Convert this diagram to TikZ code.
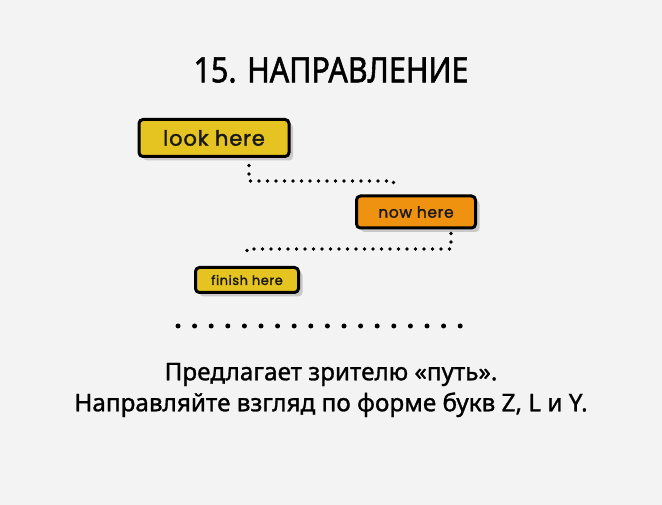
\documentclass[tikz,border=0pt]{standalone}
\usepackage{fontspec}
\setmainfont{Noto Sans}[FakeBold=1.2]
\newfontfamily\titlefont{Noto Sans}[FakeStretch=0.87, FakeBold=1.6]
\newfontfamily\labelfont{Poppins}[FakeBold=1.6, LetterSpace=4]
\definecolor{bg}{HTML}{F3F3F3}
\definecolor{yel}{HTML}{E5C320}
\definecolor{org}{HTML}{EE9210}
\definecolor{shd}{HTML}{C9C9C9}
\usetikzlibrary{shadows}
\tikzset{
  tag/.style={draw=black, line width=3pt, rounded corners=4pt, inner sep=0pt,
    text=black!90,
    drop shadow={shadow xshift=4pt, shadow yshift=-4pt, fill=shd, opacity=1}},
  dotline/.style={line width=3.8pt, line cap=round, dash pattern=on 0pt off 8.5pt},
  bigdots/.style={line width=5pt, line cap=round, dash pattern=on 0pt off 16.6pt}
}
\begin{document}
\begin{tikzpicture}[x=1pt,y=-1pt]
\fill[bg] (0,0) rectangle (662,505);
\useasboundingbox (0,0) rectangle (662,505);
\node[font=\titlefont\fontsize{35}{40}\selectfont] (title) at (331,70) {15. НАПРАВЛЕНИЕ};
\node[tag, fill=yel, minimum width=150pt, minimum height=37pt, font=\labelfont\fontsize{21}{24}\selectfont] (look) at (214,138) {look here};
\node[tag, fill=org, minimum width=119pt, minimum height=32pt, font=\labelfont\fontsize{15.5}{18}\selectfont] (now) at (416,212) {now here};
\node[tag, fill=yel, minimum width=103pt, minimum height=25pt, font=\labelfont\fontsize{13}{16}\selectfont] (fin) at (247,280) {finish here};
\coordinate (a1) at (249,181);
\coordinate (a2) at (393.5,181);
\coordinate (b1) at (451,249);
\coordinate (b2) at (247,249);
\draw[dotline] ([yshift=-7.5pt]look.south -| a1) -- (a1) -- (a2) -- ([yshift=5.5pt]now.north -| a2);
\draw[dotline] ([yshift=-4pt]now.south -| b1) -- (b1) -- (b2) -- ([yshift=9pt]fin.north -| b2);
\coordinate (d1) at (178,326);
\coordinate (d2) at (461,326);
\draw[bigdots] (d1) -- (d2);
\node[font=\fontsize{24.3}{31}\selectfont, align=center] (txt) at (331,390) {Предлагает зрителю «путь».\\Направляйте взгляд по форме букв Z, L и Y.};
\end{tikzpicture}
\end{document}
